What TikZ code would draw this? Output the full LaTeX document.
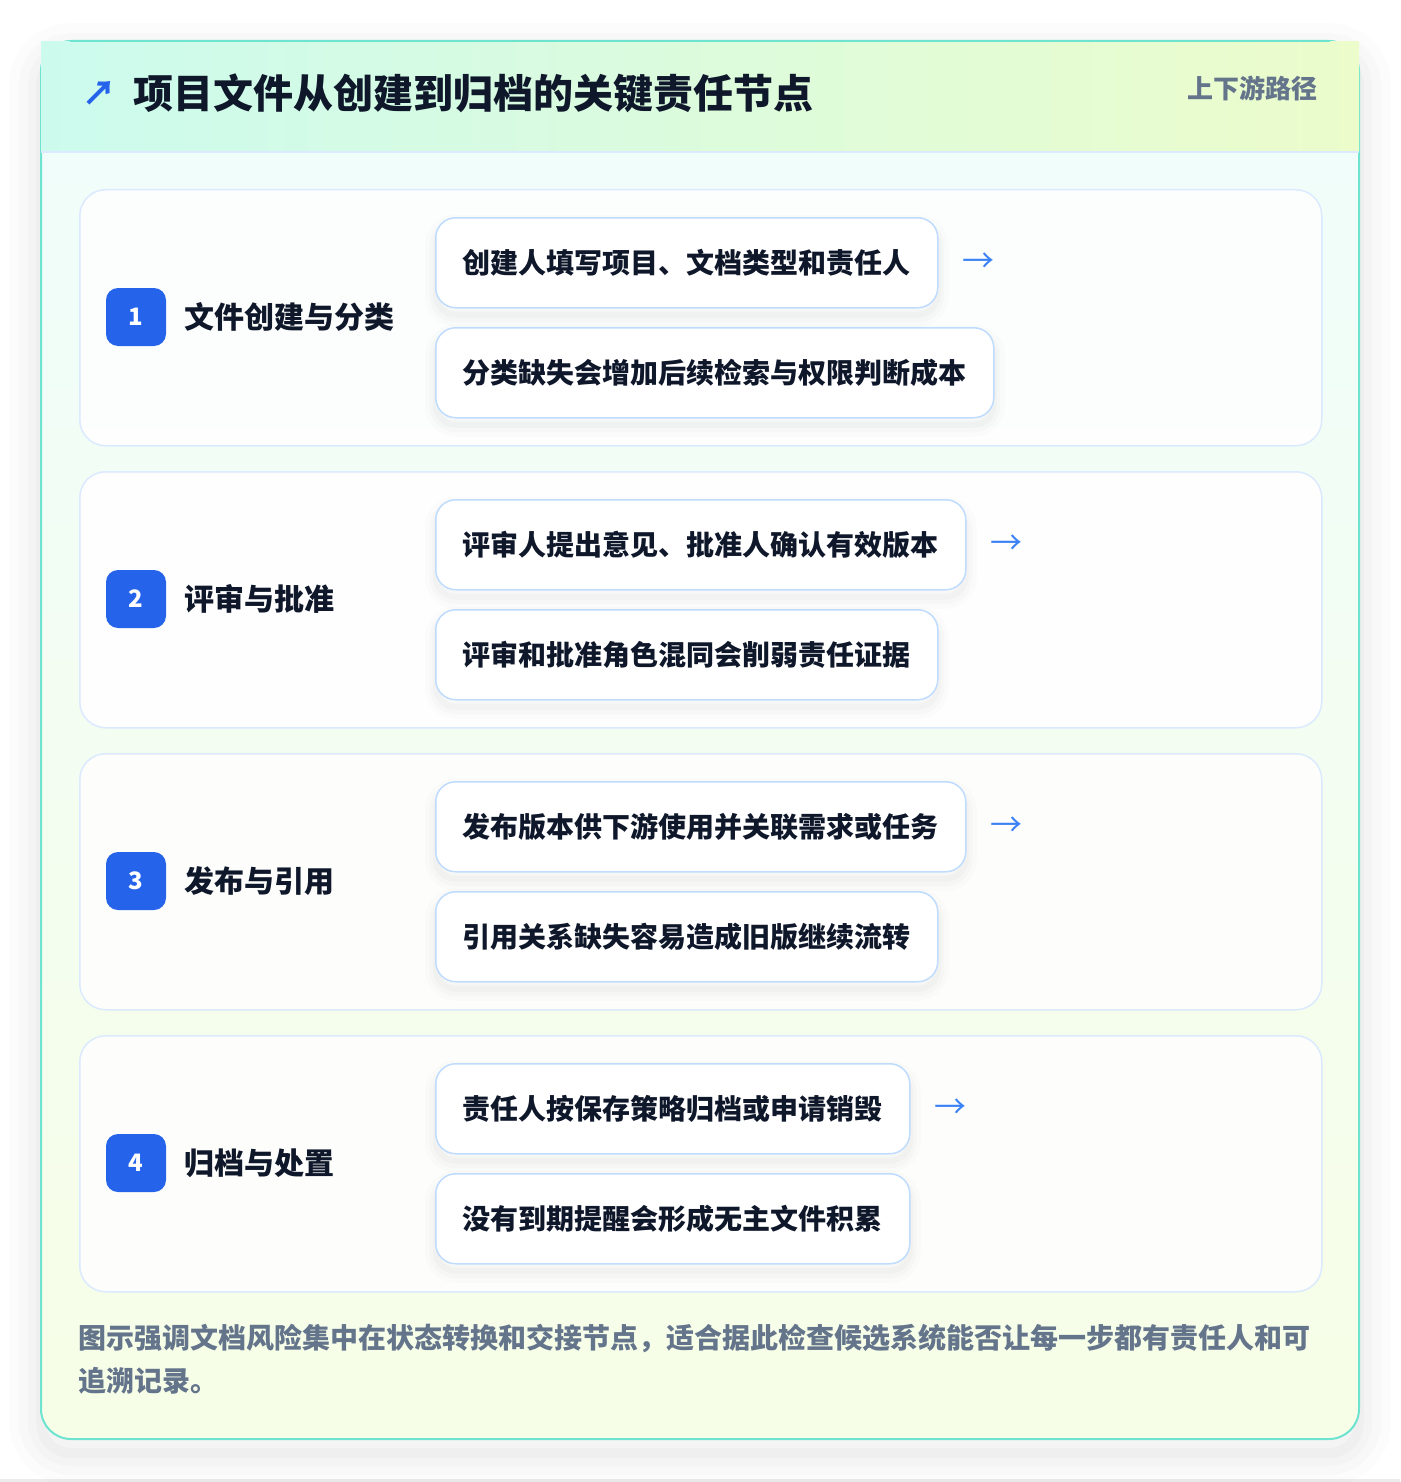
\documentclass[tikz,border=0pt]{standalone}
\usepackage{fontspec}
\setmainfont{Noto Sans CJK SC}
\usetikzlibrary{positioning}

\definecolor{ink}{HTML}{0F172A}
\definecolor{muted}{HTML}{64748B}
\definecolor{badgeblue}{HTML}{2563EB}
\definecolor{arrowblue}{HTML}{3B82F6}
\definecolor{frameline}{HTML}{6EE3CF}
\definecolor{cardline}{HTML}{DBEAFE}
\definecolor{itemline}{HTML}{BFDBFE}
\definecolor{headleft}{HTML}{CCFBEE}
\definecolor{headright}{HTML}{ECFCCB}
\definecolor{bodytop}{HTML}{F0FDFA}
\definecolor{bodybottom}{HTML}{F7FEE7}

\tikzset{
  softshadow/.style={
    preaction={draw=black, draw opacity=0.012, line width=22, transform canvas={yshift=-8pt}},
    preaction={draw=black, draw opacity=0.015, line width=13, transform canvas={yshift=-8pt}},
    preaction={draw=black, draw opacity=0.02, line width=6, transform canvas={yshift=-7pt}}},
  stagecard/.style={draw=cardline, line width=1.5, fill=white, fill opacity=0.85,
    rounded corners=26, minimum width=1242, minimum height=256, anchor=north west},
  numbadge/.style={fill=badgeblue, rounded corners=12, minimum width=60, minimum height=58,
    text=white, font=\bfseries\fontsize{24}{24}\selectfont},
  stagetext/.style={anchor=west, inner sep=0, text=ink, font=\bfseries\fontsize{30}{30}\selectfont},
  itembox/.style={softshadow, draw=itemline, line width=1.5, fill=white, rounded corners=20,
    anchor=north west, minimum height=90, inner xsep=27, text=ink,
    font=\bfseries\fontsize{28}{28}\selectfont},
  nextarrow/.style={text=arrowblue, font=\fontsize{32}{32}\selectfont, inner sep=0}
}

\begin{document}
\begin{tikzpicture}[x=1pt,y=-1pt]
  \useasboundingbox (0,0) rectangle (1400,1482);
  \fill[white] (0,0) rectangle (1400,1482);
  \fill[black!8] (0,1479) rectangle (1400,1482);

  % outer panel
  \foreach \w/\o in {64/0.012,44/0.014,26/0.016,10/0.02}
    \draw[black, draw opacity=\o, line width=\w, rounded corners=30,
      transform canvas={yshift=-14pt}] (41,41) rectangle (1359,1439);
  \begin{scope}
    \clip[rounded corners=30] (41,41) rectangle (1359,1439);
    \shade[top color=bodytop, bottom color=bodybottom] (41,152) rectangle (1359,1439);
  \end{scope}
  \draw[frameline, line width=2, rounded corners=30] (41,41) rectangle (1359,1439);
  \shade[left color=headleft, right color=headright] (41,42) rectangle (1359,152);
  \draw[frameline, line width=2] (70,41) -- (1330,41);
  \draw[cardline, line width=1.5] (41,152) -- (1359,152);

  % header
  \node[anchor=west, inner sep=0, text=badgeblue, font=\bfseries\fontsize{34}{34}\selectfont] (mark) at (82,93) {↗};
  \node[anchor=west, inner sep=0, text=ink, font=\bfseries\fontsize{40}{40}\selectfont] (title) at (133,93) {项目文件从创建到归档的关键责任节点};
  \node[anchor=east, inner sep=0, text=muted, font=\bfseries\fontsize{26}{26}\selectfont] (route) at (1318,88) {上下游路径};

  % stages
  \foreach \i/\stagename/\taskline/\riskline in {
    1/文件创建与分类/创建人填写项目、文档类型和责任人/分类缺失会增加后续检索与权限判断成本,
    2/评审与批准/评审人提出意见、批准人确认有效版本/评审和批准角色混同会削弱责任证据,
    3/发布与引用/发布版本供下游使用并关联需求或任务/引用关系缺失容易造成旧版继续流转,
    4/归档与处置/责任人按保存策略归档或申请销毁/没有到期提醒会形成无主文件积累}
  {
    \pgfmathsetmacro\cardtop{189+282*(\i-1)}
    \node[stagecard] (card\i) at (79,\cardtop) {};
    \node[numbadge] (num\i) at (136,\cardtop+128) {\i};
    \node[stagetext] (stage\i) at (184,\cardtop+128) {\stagename};
    \node[itembox] (task\i) at (435,\cardtop+28) {\taskline};
    \node[itembox] (risk\i) at (435,\cardtop+138) {\riskline};
    \node[nextarrow, right=24 of task\i] (next\i) {→};
  }

  % note
  \node[anchor=north west, inner sep=0, align=left, text=muted,
    font=\bfseries\fontsize{28}{43}\selectfont] (note) at (78,1324)
    {图示强调文档风险集中在状态转换和交接节点，适合据此检查候选系统能否让每一步都有责任人和可\\追溯记录。};
\end{tikzpicture}
\end{document}
